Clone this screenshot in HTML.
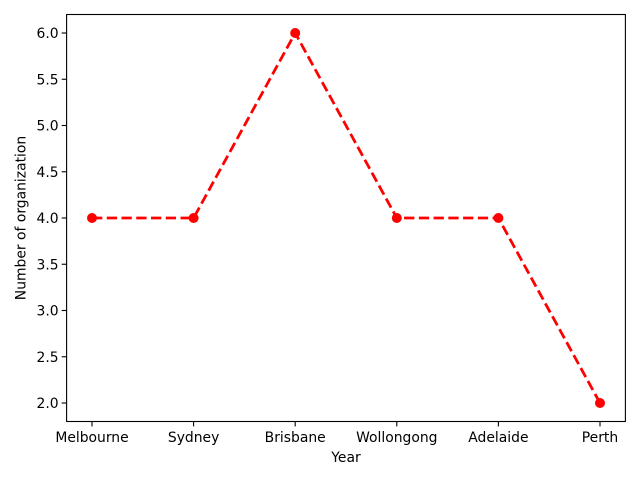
<!DOCTYPE html>
<html><head><meta charset="utf-8"><style>
body{margin:0;background:#fff;}
svg text{font-family:"DejaVu Sans","Liberation Sans",sans-serif;font-size:13.9px;fill:#000;}
</style></head><body>
<svg id="chart" width="640" height="480" xmlns="http://www.w3.org/2000/svg"></svg>
<script>
const categories=["Melbourne","Sydney","Brisbane","Wollongong","Adelaide","Perth"];
const values=[4,4,6,4,4,2];
const yTicks=[2.0,2.5,3.0,3.5,4.0,4.5,5.0,5.5,6.0];
const L=66.6,R=625.4,T=14.5,B=421.5,yMin=1.8,yMax=6.2;
const NS="http://www.w3.org/2000/svg";
const svg=document.getElementById('chart');
function x(i){return L+(R-L)*(i+0.25)/(categories.length-1+0.5);}
function y(v){return B-(v-yMin)/(yMax-yMin)*(B-T);}
function mk(tag,attrs,parent){const e=document.createElementNS(NS,tag);for(const k in attrs)e.setAttribute(k,attrs[k]);(parent||svg).appendChild(e);return e;}
const gx=mk('g',{});


categories.forEach((c,i)=>{
  mk('line',{x1:x(i),x2:x(i),y1:B,y2:B+4.9,stroke:'#000','stroke-width':1.1},gx);
  const t=mk('text',{x:x(i),y:B+20.5,'text-anchor':'middle'},gx);t.textContent=c;
  
  
});
const gy=mk('g',{});


yTicks.forEach(v=>{
  mk('line',{x1:L-4.9,x2:L,y1:y(v),y2:y(v),stroke:'#000','stroke-width':1.1},gy);
  const t=mk('text',{x:L-8,y:y(v)+5,'text-anchor':'end'},gy);t.textContent=v.toFixed(1);
  
  
});
const line=mk('polyline',{points:values.map((v,i)=>x(i)+','+y(v)).join(' '),fill:'none',stroke:'#ff0000','stroke-width':2.78,'stroke-dasharray':'10.3,4.45'});


values.forEach((v,i)=>{
  const c=mk('circle',{cx:x(i),cy:y(v),r:5,fill:'#ff0000'});
  
  
});
const frame=mk('rect',{x:L,y:T,width:R-L,height:B-T,fill:'none',stroke:'#000','stroke-width':1.1});


const xt=mk('text',{x:(L+R)/2,y:462,'text-anchor':'middle'});xt.textContent='Year';


const yt=mk('text',{x:0,y:0,'text-anchor':'middle',transform:`translate(25.5,${(T+B)/2}) rotate(-90)`});yt.textContent='Number of organization';


</script>
</body></html>
